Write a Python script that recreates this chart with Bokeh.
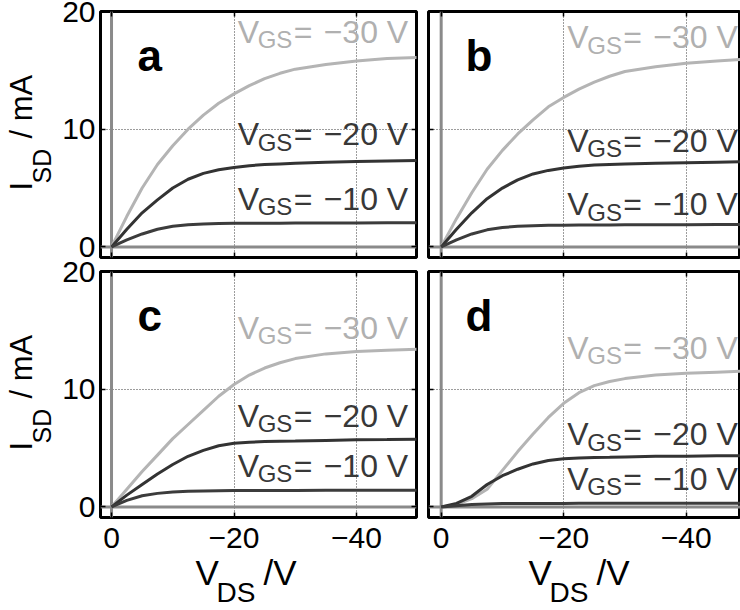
import math

from bokeh.embed import file_html
from bokeh.layouts import column, row
from bokeh.models import FixedTicker, Label, LinearAxis, Range1d, Span
from bokeh.plotting import figure
from bokeh.resources import INLINE

# Drain-source voltage samples (V) shared by every output characteristic
vds = [0, -2.5, -5, -7.5, -10, -12.5, -15, -17.5, -20, -22.5, -25, -27.5,
       -30, -35, -40, -45, -50]

# Source-drain current (mA) for V_GS = -30, -20, -10 V in each device (a-d)
a_vgs30 = [0, 2.6, 5.0, 7.0, 8.6, 10.0, 11.2, 12.2, 13.0, 13.7, 14.3, 14.75,
           15.1, 15.5, 15.8, 16.0, 16.1]
a_vgs20 = [0, 1.5, 2.9, 4.0, 5.0, 5.75, 6.25, 6.55, 6.75, 6.9, 7.0, 7.05,
           7.1, 7.2, 7.25, 7.3, 7.35]
a_vgs10 = [0, 0.6, 1.1, 1.5, 1.75, 1.88, 1.95, 1.98, 2.0, 2.0, 2.02, 2.02,
           2.03, 2.03, 2.04, 2.05, 2.05]

b_vgs30 = [0, 2.4, 4.6, 6.6, 8.2, 9.6, 10.8, 11.9, 12.7, 13.4, 14.0, 14.5,
           14.9, 15.3, 15.6, 15.8, 15.95]
b_vgs20 = [0, 1.5, 2.9, 4.1, 5.0, 5.7, 6.2, 6.5, 6.7, 6.85, 6.95, 7.0,
           7.05, 7.1, 7.15, 7.2, 7.25]
b_vgs10 = [0, 0.6, 1.1, 1.45, 1.65, 1.75, 1.8, 1.83, 1.85, 1.86, 1.87, 1.87,
           1.88, 1.88, 1.89, 1.9, 1.9]

c_vgs30 = [0, 1.5, 3.0, 4.4, 5.8, 7.0, 8.2, 9.4, 10.4, 11.2, 11.8, 12.25,
           12.6, 13.0, 13.2, 13.3, 13.4]
c_vgs20 = [0, 1.0, 1.9, 2.8, 3.6, 4.3, 4.8, 5.2, 5.4, 5.5, 5.55, 5.58,
           5.6, 5.65, 5.7, 5.72, 5.75]
c_vgs10 = [0, 0.55, 0.95, 1.15, 1.27, 1.33, 1.36, 1.38, 1.39, 1.4, 1.4, 1.4,
           1.4, 1.41, 1.41, 1.42, 1.42]

d_vgs30 = [0, 0.2, 0.7, 1.5, 3.1, 4.7, 6.2, 7.6, 8.8, 9.7, 10.3, 10.65,
           10.9, 11.2, 11.35, 11.45, 11.55]
d_vgs20 = [0, 0.3, 0.9, 1.9, 2.65, 3.2, 3.65, 3.95, 4.1, 4.15, 4.2, 4.22,
           4.25, 4.3, 4.3, 4.35, 4.35]
d_vgs10 = [0, 0.1, 0.2, 0.25, 0.28, 0.29, 0.3, 0.3, 0.3, 0.31, 0.31, 0.31,
           0.31, 0.32, 0.32, 0.32, 0.32]

gate_voltages = ["\u221230", "\u221220", "\u221210"]

x_ticks = [0, -20, -40]
x_tick_labels = ["0", "\u221220", "\u221240"]
y_ticks = [0, 10, 20]
y_tick_labels = ["0", "10", "20"]

FONT = "Liberation Sans"
LIGHT = "#b4b4b4"
DARK = "#333333"
DARK2 = "#3c3c3c"
ZERO = "#8a8a8a"
curve_colors = [LIGHT, DARK, DARK2]
label_colors = ["#b0b0b0", "#383838", "#383838"]

# distance from the alphabetic baseline to a Label's anchor line, in em
MID = 0.38


def style_axis(ax, ticks, tick_labels, show_labels, standoff=5):
    ax.ticker = FixedTicker(ticks=ticks)
    ax.axis_line_color = None
    ax.major_tick_in = 5
    ax.major_tick_out = 0
    ax.major_tick_line_color = "black"
    ax.major_tick_line_width = 1.5
    ax.minor_tick_line_color = None
    ax.major_label_overrides = dict(zip(ticks, tick_labels))
    if show_labels:
        ax.major_label_text_font = FONT
        ax.major_label_text_font_size = "30px"
        ax.major_label_text_color = "black"
        ax.major_label_standoff = standoff
    else:
        ax.major_label_text_font_size = "0px"
        ax.major_label_standoff = 0


def text_label(p, x, y, text, size, color="black", x_units="screen",
               y_units="screen", dx=0, dy=0, bold=False):
    """Horizontal text whose alphabetic baseline sits at (x, y) + (dx, dy)."""
    p.add_layout(Label(x=x, y=y, x_units=x_units, y_units=y_units,
                       x_offset=dx, y_offset=dy + MID * size, text=text,
                       text_font=FONT, text_font_size=f"{size}px",
                       text_font_style="bold" if bold else "normal",
                       text_color=color, text_baseline="middle",
                       text_align="left"))


def rotated_label(p, base_x, start_y, text, size, color="black"):
    """Text reading upwards whose baseline is the vertical line x = base_x."""
    p.add_layout(Label(x=base_x - MID * size, y=start_y, x_units="screen",
                       y_units="screen", text=text, text_font=FONT,
                       text_font_size=f"{size}px", text_color=color,
                       text_baseline="middle", text_align="left",
                       angle=math.pi / 2))


def make_panel(letter, currents, label_y, x_range, frame_w, borders,
               bottom_labels, left_labels, right_axis):
    top, bottom, left, right = borders
    p = figure(frame_width=frame_w, frame_height=246,
               min_border_top=top, min_border_bottom=bottom,
               min_border_left=left, min_border_right=right,
               x_range=Range1d(*x_range), y_range=Range1d(-0.9, 20),
               toolbar_location=None, output_backend="svg")
    p.background_fill_color = "white"
    p.border_fill_color = "white"
    p.outline_line_color = "black"
    p.outline_line_width = 3

    style_axis(p.xaxis[0], x_ticks, x_tick_labels, bottom_labels, standoff=10)
    style_axis(p.yaxis[0], y_ticks, y_tick_labels, left_labels, standoff=5)
    top_axis = LinearAxis()
    style_axis(top_axis, x_ticks, x_tick_labels, False)
    p.add_layout(top_axis, "above")
    if right_axis:
        right_ax = LinearAxis()
        style_axis(right_ax, y_ticks, y_tick_labels, False)
        p.add_layout(right_ax, "right")

    p.xgrid.ticker = FixedTicker(ticks=[-20, -40])
    p.ygrid.ticker = FixedTicker(ticks=[10])
    for g in (p.xgrid, p.ygrid):
        g.grid_line_color = "#3a3a3a"
        g.grid_line_dash = "1 2"
        g.grid_line_width = 1

    p.add_layout(Span(location=0, dimension="height", line_color=ZERO,
                      line_width=3, level="underlay"))
    p.add_layout(Span(location=0, dimension="width", line_color=ZERO,
                      line_width=3, level="underlay"))

    for isd, color in zip(currents, curve_colors):
        p.line(vds, isd, line_color=color, line_width=3)

    # V_GS annotations next to each curve
    for vg, ly, color in zip(gate_voltages, label_y, label_colors):
        text_label(p, -20.6, ly, "V", 32, color, "data", "data")
        text_label(p, -20.6, ly, "GS", 24, color, "data", "data", dx=20, dy=-5)
        text_label(p, -20.6, ly, "=", 32, color, "data", "data", dx=56)
        text_label(p, -20.6, ly, vg + " V", 32, color, "data", "data", dx=86)

    text_label(p, 37, 185, letter, 44, bold=True)
    return p


def label_strip(width, height):
    s = figure(frame_width=width, frame_height=height, min_border=0,
               x_range=Range1d(0, 1), y_range=Range1d(0, 1),
               x_axis_location=None, y_axis_location=None,
               toolbar_location=None, output_backend="svg")
    s.grid.visible = False
    s.outline_line_color = None
    s.background_fill_color = "white"
    s.border_fill_color = "white"
    return s


left_range = (1.8, -49.8)
right_range = (2.07, -48.87)

pa = make_panel("a", [a_vgs30, a_vgs20, a_vgs10], [17.25, 8.55, 3.05],
                left_range, 316, (11, 2, 44, 6), False, True, True)
pb = make_panel("b", [b_vgs30, b_vgs20, b_vgs10], [16.8, 8.0, 2.6],
                right_range, 312, (11, 2, 6, 0), False, False, False)
pc = make_panel("c", [c_vgs30, c_vgs20, c_vgs10], [14.2, 6.7, 2.45],
                left_range, 316, (12, 38, 44, 6), True, True, True)
pd = make_panel("d", [d_vgs30, d_vgs20, d_vgs10], [12.5, 5.15, 1.35],
                right_range, 312, (12, 38, 6, 0), True, False, False)

# Current axis titles (I_SD / mA), one per row, reading upwards
ylab = label_strip(56, 555)
for base in (365, 105):
    rotated_label(ylab, 33, base, "I", 31)
    rotated_label(ylab, 51, base + 7, "SD", 25)
    rotated_label(ylab, 33, base + 52, "/ mA", 31)

# Voltage axis titles (V_DS / V), one per column
xlab = label_strip(740, 55)
for left in (195, 528):
    text_label(xlab, left, 25, "V", 35)
    text_label(xlab, left + 21, 7, "DS", 28)
    text_label(xlab, left + 68, 25, "/V", 35)

layout = column(row(ylab, column(row(pa, pb), row(pc, pd))), xlab)

open("out.html", "w").write(file_html(layout, INLINE))
